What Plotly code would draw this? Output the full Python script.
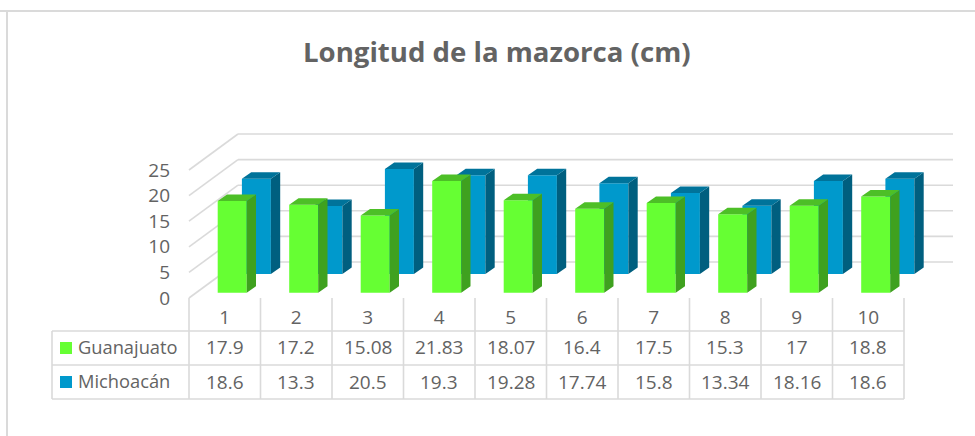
import plotly.graph_objects as go

# ---- data ----
categories = [1, 2, 3, 4, 5, 6, 7, 8, 9, 10]
guanajuato = [17.9, 17.2, 15.08, 21.83, 18.07, 16.4, 17.5, 15.3, 17, 18.8]
michoacan = [18.6, 13.3, 20.5, 19.3, 19.28, 17.74, 15.8, 13.34, 18.16, 18.6]
guanajuato_labels = ["17.9", "17.2", "15.08", "21.83", "18.07", "16.4", "17.5", "15.3", "17", "18.8"]
michoacan_labels = ["18.6", "13.3", "20.5", "19.3", "19.28", "17.74", "15.8", "13.34", "18.16", "18.6"]
y_ticks = [0, 5, 10, 15, 20, 25]
title_text = "Longitud de la mazorca (cm)"

# ---- page / scale set-up ----
W, H = 975, 436
PX_CAT = 71.5         # pixels per category
PX_VAL = 5.12         # pixels per value unit
X0_PX = 189           # pixel of category edge 0.5
Y0_PX = 298           # pixel of value 0 on front plane
TEXT = "#636363"
GRID = "#DADADA"
FONT = "Open Sans, Noto Sans, sans-serif"

x_range = [0.5 - X0_PX / PX_CAT, 0.5 + (W - X0_PX) / PX_CAT]
y_range = [-(H - Y0_PX) / PX_VAL, Y0_PX / PX_VAL]


def dx(px):
    return px / PX_CAT


def dv(px):
    return px / PX_VAL


def py(px):
    return 1 - px / H


BAR_W = dx(29)
SIDE_X, SIDE_V = dx(9.3), dv(6.5)
WALL_X, WALL_V = dx(49), dv(36)
WALL_END = 10.5 + dx(49)


def series_traces(values, x_off, base, front, side, top, name, xa, ya):
    xs = [c + x_off for c in categories]
    traces = []
    sx, sy, tx, ty = [], [], [], []
    for x, v in zip(xs, values):
        l, r = x - BAR_W / 2, x + BAR_W / 2
        sx += [r, r + SIDE_X, r + SIDE_X, r, r, None]
        sy += [base, base + SIDE_V, base + v + SIDE_V, base + v, base, None]
        tx += [l, l + SIDE_X, r + SIDE_X, r, l, None]
        ty += [base + v, base + v + SIDE_V, base + v + SIDE_V, base + v, base + v, None]
    traces.append(go.Bar(x=xs, y=values, base=base, width=BAR_W, name=name,
                         marker=dict(color=front, line=dict(width=0)),
                         xaxis=xa, yaxis=ya, showlegend=False, hoverinfo="skip"))
    for px_, py_, col in ((sx, sy, side), (tx, ty, top)):
        traces.append(go.Scatter(x=px_, y=py_, mode="lines", fill="toself", fillcolor=col,
                                 line=dict(width=0, color=col), xaxis=xa, yaxis=ya,
                                 showlegend=False, hoverinfo="skip"))
    return traces


fig = go.Figure()
# anchor trace so main axes are live
fig.add_trace(go.Scatter(x=[1], y=[0], mode="markers", marker=dict(opacity=0),
                         showlegend=False, hoverinfo="skip"))
for t in series_traces(michoacan, dx(31.65), dv(24), "#0099CC", "#005F7F", "#00739A",
                       "Michoacán", "x2", "y2"):
    fig.add_trace(t)
for t in series_traces(guanajuato, dx(7.45), dv(5.3), "#66FF33", "#3FA11F", "#4DBF27",
                       "Guanajuato", "x3", "y3"):
    fig.add_trace(t)

shapes = []
annotations = []


def line(x0, y0, x1, y1, xref, yref, width=1.6):
    shapes.append(dict(type="line", x0=x0, y0=y0, x1=x1, y1=y1, xref=xref, yref=yref,
                       line=dict(color=GRID, width=width), layer="below"))


# walls
for v in y_ticks:
    line(0.5, v, 0.5 + WALL_X, v + WALL_V, "x", "y")
    line(0.5 + WALL_X, v + WALL_V, WALL_END, v + WALL_V, "x", "y")

# data table rules
for i in range(len(categories) + 1):
    line(0.5 + i, py(298), 0.5 + i, py(399), "x", "paper")
for yy in (331, 365, 399):
    line(0.5 - dx(137), py(yy), 10.5, py(yy), "x", "paper")
line(0.5 - dx(137), py(331), 0.5 - dx(137), py(399), "x", "paper")

# outer frame
line(0, py(11), 1, py(11), "paper", "paper", 2)
line(7 / W, py(11), 7 / W, py(436), "paper", "paper", 2)

# legend keys
for y0, y1, col in ((342, 354, "#66FF33"), (376, 388, "#0099CC")):
    shapes.append(dict(type="rect", xref="paper", yref="paper", x0=60 / W, x1=72 / W,
                       y0=py(y1), y1=py(y0), fillcolor=col, line=dict(width=0), layer="above"))


def text(x, xref, ypx, s, size=19, anchor="center", bold=False):
    annotations.append(dict(x=x, xref=xref, y=py(ypx), yref="paper", text=s, showarrow=False,
                            xanchor=anchor, yanchor="middle",
                            font=dict(size=size, color=TEXT, family=FONT,
                                      weight="bold" if bold else "normal")))


text(497.5 / W, "paper", 50.5, title_text, size=27.6, bold=True)
text(76 / W, "paper", 346.5, "Guanajuato", size=18.3, anchor="left")
text(76 / W, "paper", 380.5, "Michoacán", size=18.3, anchor="left")
for c, a, b in zip(categories, guanajuato_labels, michoacan_labels):
    text(c, "x", 347, a)
    text(c, "x", 381.5, b)

hidden = dict(visible=False, fixedrange=True)
fig.update_layout(
    width=W, height=H, margin=dict(l=0, r=0, t=0, b=0), autosize=False,
    paper_bgcolor="white", plot_bgcolor="rgba(0,0,0,0)",
    barmode="overlay", showlegend=False,
    xaxis=dict(domain=[0, 1], range=x_range, tickmode="array", tickvals=categories,
               ticktext=[str(c) for c in categories], showgrid=False, zeroline=False,
               showline=False, ticks="", anchor="free", position=py(304),
               tickfont=dict(size=19, color=TEXT, family=FONT), fixedrange=True),
    yaxis=dict(domain=[0, 1], range=y_range, tickmode="array", tickvals=y_ticks,
               showgrid=False, zeroline=False, showline=False, ticks="",
               anchor="free", position=170 / W,
               tickfont=dict(size=19, color=TEXT, family=FONT), fixedrange=True),
    xaxis2=dict(overlaying="x", range=x_range, **hidden),
    yaxis2=dict(overlaying="y", range=y_range, **hidden),
    xaxis3=dict(overlaying="x", range=x_range, **hidden),
    yaxis3=dict(overlaying="y", range=y_range, **hidden),
    shapes=shapes, annotations=annotations,
)
fig.write_html("out.html", config={"displayModeBar": False},
               post_script="document.body.style.margin='0';document.documentElement.style.overflow='hidden';")
